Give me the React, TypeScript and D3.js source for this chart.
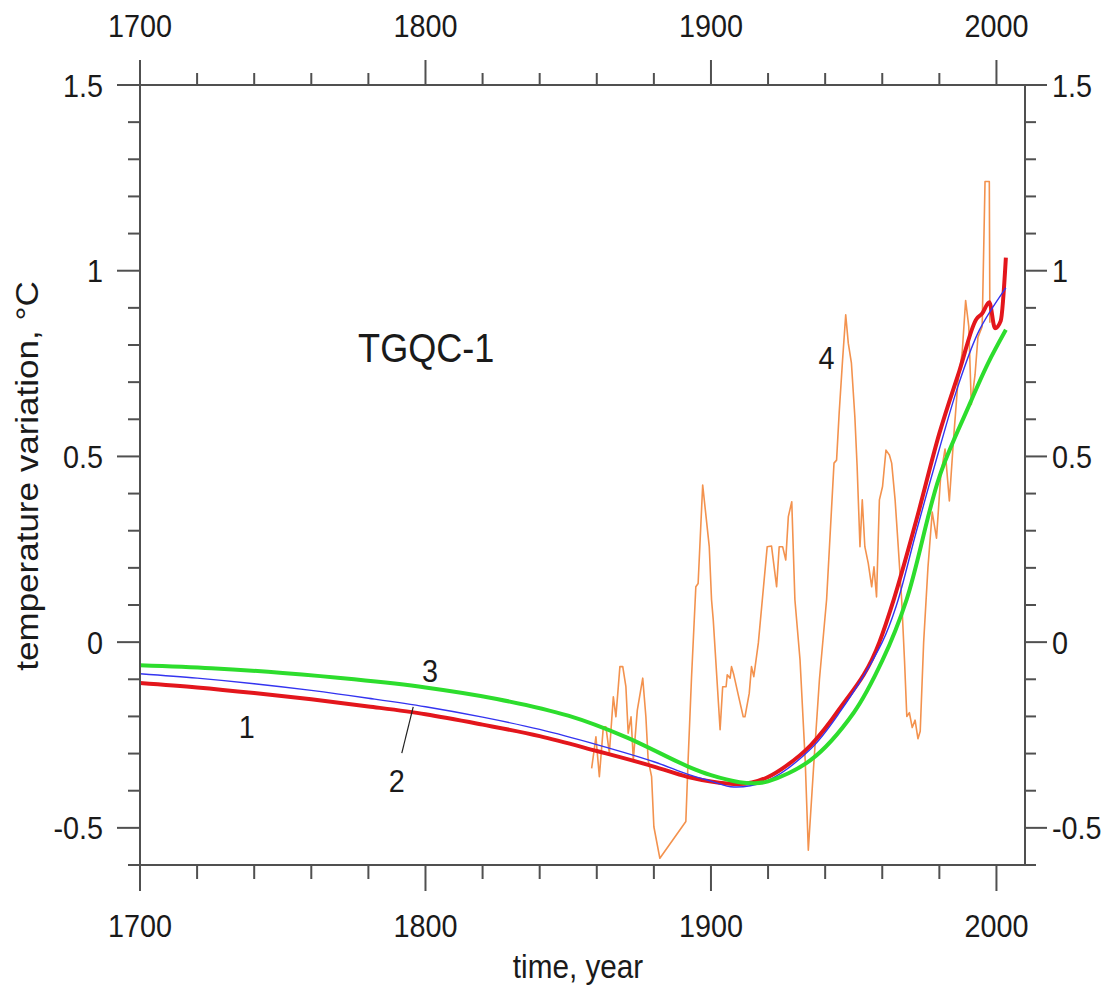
import React, { useEffect, useRef } from 'react';
import * as d3 from 'd3';

// curve 1 (red)
const redYears = [1700, 1720, 1740, 1760, 1780, 1800, 1820, 1840, 1860, 1880, 1892, 1900, 1910, 1920, 1926, 1935, 1945, 1959, 1964, 1972, 1980, 1987, 1993, 1995, 1997.5, 1999.5, 2001.5, 2003.3];
const redValues = [-0.11, -0.122, -0.137, -0.154, -0.173, -0.194, -0.222, -0.253, -0.293, -0.335, -0.363, -0.375, -0.382, -0.363, -0.335, -0.277, -0.18, 0.0, 0.114, 0.33, 0.562, 0.73, 0.87, 0.885, 0.915, 0.845, 0.865, 1.035];

// curve 2 (blue)
const blueYears = [1700, 1720, 1740, 1760, 1780, 1800, 1820, 1840, 1860, 1880, 1892, 1900, 1908, 1920, 1935, 1945, 1960, 1965, 1972, 1980, 1987, 1994, 2003.3];
const blueValues = [-0.085, -0.097, -0.112, -0.13, -0.151, -0.174, -0.202, -0.235, -0.276, -0.322, -0.356, -0.374, -0.39, -0.372, -0.287, -0.19, 0.0, 0.1, 0.3, 0.52, 0.7, 0.84, 0.954];

// curve 3 (green)
const greenYears = [1700, 1725, 1750, 1775, 1800, 1825, 1850, 1870, 1892, 1900, 1910, 1915, 1920, 1935, 1950, 1960, 1968.5, 1980, 1990, 1997, 2003.3];
const greenValues = [-0.062, -0.07, -0.083, -0.1, -0.122, -0.153, -0.198, -0.255, -0.335, -0.358, -0.377, -0.38, -0.375, -0.317, -0.19, -0.05, 0.114, 0.445, 0.63, 0.75, 0.841];

// curve 4 (orange, observations)
const orangeYears = [1858.2, 1859.7, 1860.9, 1862.3, 1863.2, 1864.4, 1865.8, 1866.7, 1868.1, 1869.1, 1870.2, 1871.0, 1872.0, 1872.8, 1874.2, 1876.1, 1877.2, 1878.0, 1879.2, 1880.0, 1882.1, 1891.2, 1892.0, 1893.2, 1894.7, 1895.5, 1897.1, 1899.4, 1900.2, 1900.8, 1903.2, 1904.1, 1905.3, 1905.7, 1906.7, 1907.2, 1908.0, 1909.5, 1911.3, 1911.9, 1913.4, 1914.2, 1915.0, 1916.6, 1919.7, 1921.2, 1923.0, 1923.9, 1925.1, 1926.2, 1927.1, 1928.3, 1929.4, 1931.2, 1933.0, 1934.1, 1936.0, 1938.0, 1940.5, 1943.1, 1944.0, 1944.9, 1946.1, 1947.2, 1948.1, 1949.2, 1950.4, 1951.2, 1952.2, 1953.0, 1953.9, 1955.1, 1956.3, 1957.1, 1958.0, 1959.0, 1960.1, 1961.3, 1962.5, 1963.3, 1964.5, 1965.6, 1966.8, 1967.8, 1968.6, 1969.5, 1970.5, 1971.5, 1972.5, 1973.3, 1974.5, 1976.0, 1977.5, 1979.0, 1980.5, 1982.0, 1983.5, 1985.0, 1986.5, 1988.0, 1989.2, 1990.3, 1991.2, 1992.5, 1993.5, 1995.0, 1996.0, 1997.5, 1997.7];
const orangeValues = [-0.34, -0.255, -0.362, -0.228, -0.228, -0.299, -0.147, -0.201, -0.066, -0.066, -0.12, -0.245, -0.201, -0.317, -0.183, -0.097, -0.201, -0.317, -0.362, -0.497, -0.582, -0.483, -0.317, -0.093, 0.149, 0.158, 0.423, 0.257, 0.114, 0.06, -0.236, -0.12, -0.12, -0.088, -0.097, -0.066, -0.088, -0.14, -0.201, -0.201, -0.138, -0.066, -0.093, -0.002, 0.257, 0.259, 0.149, 0.257, 0.257, 0.221, 0.338, 0.378, 0.114, -0.048, -0.317, -0.56, -0.33, -0.1, 0.114, 0.482, 0.49, 0.616, 0.76, 0.881, 0.805, 0.751, 0.607, 0.472, 0.257, 0.383, 0.257, 0.212, 0.149, 0.203, 0.122, 0.383, 0.419, 0.517, 0.504, 0.482, 0.383, 0.257, 0.114, -0.05, -0.2, -0.19, -0.23, -0.21, -0.26, -0.24, 0.0, 0.2, 0.35, 0.28, 0.45, 0.52, 0.38, 0.55, 0.7, 0.78, 0.92, 0.85, 0.64, 0.72, 0.82, 0.85, 1.24, 1.24, 0.86];

// ticks
const xMajorTicks = [1700, 1800, 1900, 2000];
const xMinorTicks = [1720, 1740, 1760, 1780, 1820, 1840, 1860, 1880, 1920, 1940, 1960, 1980];
const xTickLabels = ['1700', '1800', '1900', '2000'];
const yMajorTicks = [-0.5, 0, 0.5, 1, 1.5];
const yMinorTicks = [-0.6, -0.4, -0.3, -0.2, -0.1, 0.1, 0.2, 0.3, 0.4, 0.6, 0.7, 0.8, 0.9, 1.1, 1.2, 1.3, 1.4];
const yTickLabels = ['-0.5', '0', '0.5', '1', '1.5'];

// curve labels: [text, year, value]
const curveLabels: [string, number, number][] = [
  ['1', 1737.4, -0.258],
  ['2', 1789.9, -0.403],
  ['3', 1801.6, -0.107],
  ['4', 1940.5, 0.735],
];
const leaderLine = [[1791.7, -0.299], [1795.7, -0.174]];

export default function App() {
  const ref = useRef<SVGSVGElement>(null);

  useEffect(() => {
    const svg = d3.select(ref.current);
    svg.selectAll('*').remove();

    const W = 1119, H = 991;
    const margin = { top: 85, right: 94, bottom: 126, left: 140 };

    const x = d3.scaleLinear().domain([1700, 2010]).range([margin.left, W - margin.right]);
    const y = d3.scaleLinear().domain([-0.6, 1.5]).range([H - margin.bottom, margin.top]);

    const x0 = x(1700), x1 = x(2010), yTop = y(1.5), yBot = y(-0.6);
    const frameColor = '#505050';
    const font = '"Liberation Sans", Arial, sans-serif';
    const sx = 0.9;

    const label = (txt: string, px: number, py: number, size: number, anchor: string, scale = sx) =>
      svg.append('text')
        .attr('transform', `translate(${px},${py}) scale(${scale},1)`)
        .attr('text-anchor', anchor)
        .attr('font-family', font)
        .attr('font-size', size)
        .attr('fill', '#1a1a1a')
        .text(txt);

    // data
    const line = (xs: number[], vs: number[], curve: d3.CurveFactory) =>
      d3.line<number>().x((d, i) => x(xs[i])).y(d => y(d)).curve(curve)(vs);
    const smooth = d3.curveCatmullRom.alpha(0.5);

    svg.append('path').attr('d', line(orangeYears, orangeValues, d3.curveLinear))
      .attr('fill', 'none').attr('stroke', '#f3924e').attr('stroke-width', 1.6).attr('stroke-linejoin', 'round');
    svg.append('path').attr('d', line(redYears, redValues, d3.curveMonotoneX))
      .attr('fill', 'none').attr('stroke', '#e3161c').attr('stroke-width', 4).attr('stroke-linejoin', 'round');
    svg.append('path').attr('d', line(blueYears, blueValues, smooth))
      .attr('fill', 'none').attr('stroke', '#3434f0').attr('stroke-width', 1.4);
    svg.append('path').attr('d', line(greenYears, greenValues, smooth))
      .attr('fill', 'none').attr('stroke', '#2ddd2d').attr('stroke-width', 4);

    // frame
    const frame = svg.append('g').attr('stroke', frameColor).attr('stroke-width', 2).attr('fill', 'none');
    frame.append('rect').attr('x', x0).attr('y', yTop).attr('width', x1 - x0).attr('height', yBot - yTop);

    // x ticks (top outward, bottom outward)
    xMajorTicks.forEach(t => {
      frame.append('line').attr('x1', x(t)).attr('x2', x(t)).attr('y1', yTop).attr('y2', yTop - 25);
      frame.append('line').attr('x1', x(t)).attr('x2', x(t)).attr('y1', yBot).attr('y2', yBot + 26);
    });
    xMinorTicks.forEach(t => {
      frame.append('line').attr('x1', x(t)).attr('x2', x(t)).attr('y1', yTop).attr('y2', yTop - 12);
      frame.append('line').attr('x1', x(t)).attr('x2', x(t)).attr('y1', yBot).attr('y2', yBot + 14);
    });
    // y ticks (left and right, outward)
    yMajorTicks.forEach(t => {
      frame.append('line').attr('x1', x0).attr('x2', x0 - 23).attr('y1', y(t)).attr('y2', y(t));
      frame.append('line').attr('x1', x1).attr('x2', x1 + 22).attr('y1', y(t)).attr('y2', y(t));
    });
    yMinorTicks.forEach(t => {
      frame.append('line').attr('x1', x0).attr('x2', x0 - 12).attr('y1', y(t)).attr('y2', y(t));
      frame.append('line').attr('x1', x1).attr('x2', x1 + 11).attr('y1', y(t)).attr('y2', y(t));
    });

    // tick labels
    xMajorTicks.forEach((t, i) => {
      label(xTickLabels[i], x(t), 37, 32, 'middle');
      label(xTickLabels[i], x(t), 937, 32, 'middle');
    });
    yMajorTicks.forEach((t, i) => {
      label(yTickLabels[i], 103, y(t) + 11.5, 32, 'end');
      label(yTickLabels[i], 1052, y(t) + 11.5, 32, 'start');
    });

    // axis titles
    label('time, year', 578, 978, 33, 'middle');
    svg.append('text')
      .attr('transform', `translate(38,${476}) scale(0.87,1) rotate(-90)`)
      .attr('text-anchor', 'middle')
      .attr('font-family', font)
      .attr('font-size', 35)
      .attr('fill', '#1a1a1a')
      .text('temperature variation, °C');

    // annotations
    label('TGQC-1', x(1776.4), y(0.754), 41, 'start', 0.88);
    curveLabels.forEach(([txt, yr, v]) => label(txt, x(yr), y(v), 32, 'middle'));
    svg.append('line')
      .attr('x1', x(leaderLine[0][0])).attr('y1', y(leaderLine[0][1]))
      .attr('x2', x(leaderLine[1][0])).attr('y2', y(leaderLine[1][1]))
      .attr('stroke', '#222').attr('stroke-width', 1.2);
  }, []);

  return (
    <svg ref={ref} width={1119} height={991}
      style={{ position: 'absolute', left: 0, top: 0, background: '#fff', display: 'block' }} />
  );
}
